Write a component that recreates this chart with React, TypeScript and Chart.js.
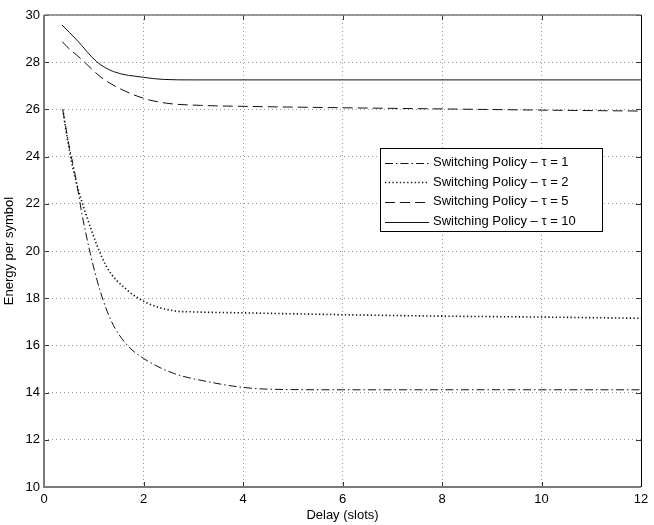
import React, { useEffect, useRef } from 'react';
import Chart from 'chart.js/auto';

// Delay (slots) / energy per symbol
const tau1Delay = [0.38, 0.5, 0.63, 0.76, 0.93, 1.13, 1.36, 1.67, 2.0, 2.6, 3.3, 4.0, 4.6, 6, 8, 10, 12];
const tau1Energy = [25.95, 24.5, 23.2, 21.6, 19.9, 18.3, 17.0, 16.02, 15.45, 14.82, 14.46, 14.22, 14.14, 14.12, 14.12, 14.12, 14.12];

const tau2Delay = [0.38, 0.42, 0.59, 0.86, 1.26, 1.67, 2.07, 2.6, 3, 4, 6, 8, 10, 12];
const tau2Energy = [26.0, 25.4, 23.43, 21.45, 19.33, 18.35, 17.8, 17.47, 17.42, 17.38, 17.3, 17.24, 17.2, 17.15];

const tau5Delay = [0.37, 0.46, 0.73, 1.13, 1.47, 2.0, 2.47, 3.15, 4, 6, 8, 10, 12];
const tau5Energy = [28.87, 28.66, 28.17, 27.39, 26.94, 26.47, 26.26, 26.17, 26.13, 26.07, 26.02, 25.97, 25.93];

const tau10Delay = [0.36, 0.66, 1.06, 1.4, 2.0, 2.4, 3, 4, 6, 8, 10, 12];
const tau10Energy = [29.58, 28.94, 28.02, 27.6, 27.36, 27.27, 27.25, 27.25, 27.25, 27.25, 27.25, 27.25];

const seriesLabels = [
  'Switching Policy \u2013 \u03c4 = 1',
  'Switching Policy \u2013 \u03c4 = 2',
  'Switching Policy \u2013 \u03c4 = 5',
  'Switching Policy \u2013 \u03c4 = 10',
];

const FONT = '"Liberation Sans", Arial, Helvetica, sans-serif';

const toPoints = (xs: number[], ys: number[]) => xs.map((x, i) => ({ x, y: ys[i] }));

const framePlugin = {
  id: 'matlabFrame',
  afterDatasetsDraw(chart: any) {
    const { ctx, chartArea } = chart;
    const { left, right, top, bottom } = chartArea;
    const xs = chart.scales.x;
    const ys = chart.scales.y;
    const tickLen = 5;
    ctx.save();

    // inward ticks on all four sides
    ctx.strokeStyle = '#333';
    ctx.lineWidth = 1;
    ctx.setLineDash([]);
    xs.ticks.forEach((t: any) => {
      const px = Math.round(xs.getPixelForValue(t.value)) + 0.5;
      ctx.beginPath();
      ctx.moveTo(px, bottom);
      ctx.lineTo(px, bottom - tickLen);
      ctx.moveTo(px, top);
      ctx.lineTo(px, top + tickLen);
      ctx.stroke();
    });
    ys.ticks.forEach((t: any) => {
      const py = Math.round(ys.getPixelForValue(t.value)) + 0.5;
      ctx.beginPath();
      ctx.moveTo(left, py);
      ctx.lineTo(left + tickLen, py);
      ctx.moveTo(right, py);
      ctx.lineTo(right - tickLen, py);
      ctx.stroke();
    });

    // box
    ctx.strokeStyle = '#7a7a7a';
    ctx.lineWidth = 2;
    ctx.beginPath();
    ctx.moveTo(left, top);
    ctx.lineTo(left, bottom);
    ctx.lineTo(right, bottom);
    ctx.stroke();
    ctx.lineWidth = 1.5;
    ctx.beginPath();
    ctx.moveTo(left, top);
    ctx.lineTo(right, top);
    ctx.stroke();
    ctx.strokeStyle = '#000';
    ctx.lineWidth = 1;
    ctx.beginPath();
    ctx.moveTo(Math.round(right) + 0.5, top);
    ctx.lineTo(Math.round(right) + 0.5, bottom);
    ctx.stroke();

    // legend
    const bx = 380.5, by = 148.5, bw = 222, bh = 83;
    ctx.fillStyle = '#fff';
    ctx.fillRect(bx, by, bw, bh);
    ctx.strokeStyle = '#000';
    ctx.lineWidth = 1;
    ctx.strokeRect(bx, by, bw, bh);
    ctx.font = '13px ' + FONT;
    ctx.textBaseline = 'middle';
    ctx.textAlign = 'left';
    chart.data.datasets.forEach((ds: any, i: number) => {
      const cy = 162.5 + i * 19.7;
      ctx.strokeStyle = ds.borderColor;
      ctx.lineWidth = ds.borderWidth;
      ctx.setLineDash(ds.borderDash || []);
      ctx.beginPath();
      ctx.moveTo(385, Math.round(cy) + 0.5);
      ctx.lineTo(429, Math.round(cy) + 0.5);
      ctx.stroke();
      ctx.setLineDash([]);
      ctx.fillStyle = '#000';
      ctx.fillText(ds.label, 433, cy);
    });
    ctx.restore();
  },
};

export default function App() {
  const canvasRef = useRef<HTMLCanvasElement>(null);

  useEffect(() => {
    document.body.style.margin = '0';
    if (!canvasRef.current) return;

    const lineBase = {
      borderColor: '#111',
      borderWidth: 1,
      pointRadius: 0,
      fill: false,
      tension: 0,
      cubicInterpolationMode: 'monotone' as const,
    };

    const chart = new Chart(canvasRef.current, {
      type: 'line',
      data: {
        datasets: [
          { ...lineBase, label: seriesLabels[0], data: toPoints(tau1Delay, tau1Energy), borderDash: [8, 3, 1.5, 3] },
          { ...lineBase, label: seriesLabels[1], data: toPoints(tau2Delay, tau2Energy), borderDash: [1.3, 2.4], borderWidth: 1.6 },
          { ...lineBase, label: seriesLabels[2], data: toPoints(tau5Delay, tau5Energy), borderDash: [10, 5] },
          { ...lineBase, label: seriesLabels[3], data: toPoints(tau10Delay, tau10Energy) },
        ],
      },
      options: {
        responsive: true,
        maintainAspectRatio: false,
        animation: false,
        layout: { padding: { top: 15, right: 13, left: 0, bottom: 0 } },
        plugins: {
          legend: { display: false },
          tooltip: { enabled: false },
        },
        scales: {
          x: {
            type: 'linear',
            min: 0,
            max: 12,
            ticks: { stepSize: 2, color: '#000', padding: 5, font: { family: FONT, size: 13 } },
            grid: { color: '#9a9a9a', lineWidth: 1, drawTicks: false },
            border: { display: false, dash: [1, 3] },
            title: { display: true, text: 'Delay (slots)', color: '#000', padding: { top: 0, bottom: 2 }, font: { family: FONT, size: 13 } },
            afterFit: (s: any) => { s.height = 38; },
          },
          y: {
            min: 10,
            max: 30,
            ticks: { stepSize: 2, color: '#000', padding: 4, font: { family: FONT, size: 13 } },
            grid: { color: '#9a9a9a', lineWidth: 1, drawTicks: false },
            border: { display: false, dash: [1, 3] },
            title: { display: true, text: 'Energy per symbol', color: '#000', padding: { top: 2, bottom: 0 }, font: { family: FONT, size: 13 } },
            afterFit: (s: any) => { s.width = 44; },
          },
        },
      },
      plugins: [framePlugin],
    });

    return () => chart.destroy();
  }, []);

  return (
    <div style={{ position: 'relative', width: 654, height: 525 }}>
      <canvas ref={canvasRef}></canvas>
    </div>
  );
}
